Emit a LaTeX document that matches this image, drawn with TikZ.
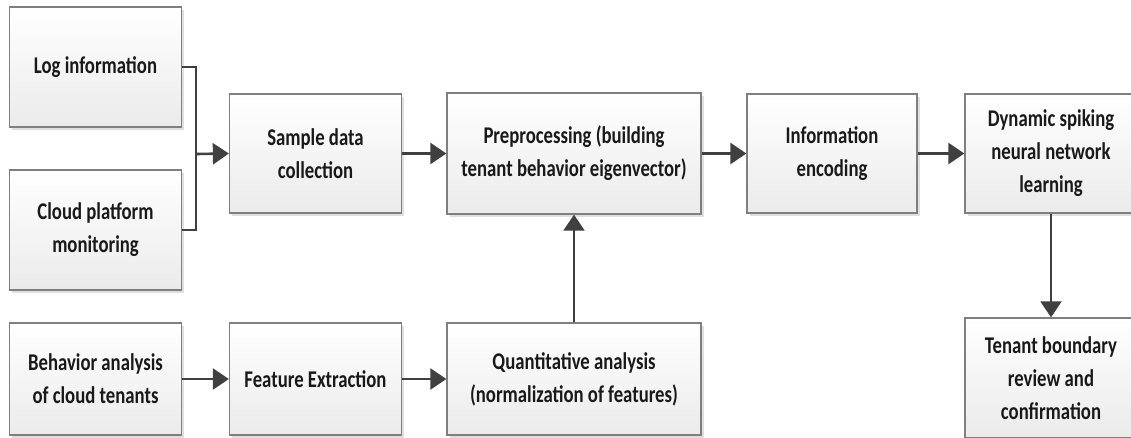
\documentclass[tikz,border=0pt]{standalone}
\usepackage{fontspec}
\setmainfont{Carlito}[FakeStretch=0.78]
\usetikzlibrary{arrows.meta,shadows}

\definecolor{boxline}{HTML}{7F7F7F}
\definecolor{arrowgray}{HTML}{404040}

\tikzset{
  stagebox/.style={draw=boxline, line width=1.3pt, top color=white, bottom color=gray!16,
    drop shadow={opacity=0.25, shadow xshift=2.5pt, shadow yshift=-2.5pt},
    minimum width=172pt, minimum height=120pt, align=center, inner sep=2pt,
    font=\bfseries\fontsize{24}{33}\selectfont, text=black!90},
  flow/.style={-{Triangle[length=16pt,width=21pt]}, draw=arrowgray, line width=2.6pt},
  link/.style={draw=arrowgray, line width=2.6pt}
}

\begin{document}
\begin{tikzpicture}[x=1pt, y=-1pt]
    \fill[white] (0,0) rectangle (1131,437);
    \clip (0,0) rectangle (1131,437);

    % left column: sources
    \node[stagebox] (log)   at (95.5,67)  {Log information};
    \node[stagebox] (cloud) at (95.5,230) {Cloud platform\\monitoring};
    \node[stagebox, minimum height=112pt] (behav) at (95.5,379) {Behavior analysis\\of cloud tenants};

    % main row
    \node[stagebox, minimum height=119pt] (sample) at (315.5,153.5) {Sample data\\collection};
    \node[stagebox, minimum width=254pt, minimum height=121pt] (prep) at (574,153.5) {Preprocessing (building\\tenant behavior eigenvector)};
    \node[stagebox, minimum width=170pt, minimum height=119pt] (encode) at (832,153.5) {Information\\encoding};
    \node[stagebox, minimum height=119pt] (dsnn) at (1051,153.5) {Dynamic spiking\\neural network\\learning};
    \node[stagebox] (review) at (1051,378) {Tenant boundary\\review and\\confirmation};

    % bottom row
    \node[stagebox, minimum height=112pt] (feat)  at (315.5,379) {Feature Extraction};
    \node[stagebox, minimum width=254pt, minimum height=112pt] (quant) at (574,379) {Quantitative analysis\\(normalization of features)};

    % bracket joining the two sources
    \coordinate (join) at (196,154);
    \draw[link] (log.east) -| (join) |- (cloud.east);
    \draw[flow] (join) -- (sample.west);

    \draw[flow] (sample) -- (prep);
    \draw[flow] (prep) -- (encode);
    \draw[flow] (encode) -- (dsnn);
    \draw[flow, line width=2pt] (dsnn) -- (review);

    \draw[flow] (behav) -- (feat);
    \draw[flow] (feat) -- (quant);
    \draw[flow, line width=2pt] (quant) -- (prep);
\end{tikzpicture}
\end{document}
